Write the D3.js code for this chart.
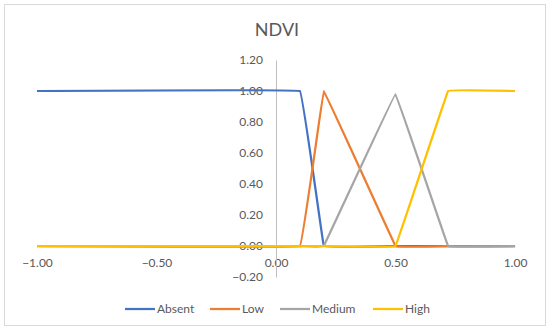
<!DOCTYPE html>
<html>
<head>
<meta charset="utf-8">
<script src="https://cdn.jsdelivr.net/npm/d3@7"></script>
<style>
  body { margin: 0; background: #fff; }
  svg text { font-family: Lato, "Open Sans", sans-serif; fill: #595959; }
</style>
</head>
<body>
<div id="chart"></div>
<script>
// chart data
const seriesNames = ["Absent", "Low", "Medium", "High"];
const seriesColors = ["#4472C4", "#ED7D31", "#A5A5A5", "#FFC000"];

const absentX = [-1, 0.1, 0.2, 0.5, 0.72, 1];
const absentY = [1, 1, 0, 0, 0, 0];
const lowX = [-1, 0.1, 0.2, 0.5, 0.72, 1];
const lowY = [0, 0, 1, 0, 0, 0];
const mediumX = [-1, 0.1, 0.2, 0.5, 0.72, 1];
const mediumY = [0, 0, 0, 0.98, 0, 0];
const highX = [-1, 0.1, 0.2, 0.5, 0.72, 1];
const highY = [0, 0, 0, 0, 1, 1];

const xTicks = [-1, -0.5, 0, 0.5, 1];
const yTicks = [-0.2, 0, 0.2, 0.4, 0.6, 0.8, 1, 1.2];

const width = 550, height = 334;

const svg = d3.select("#chart").append("svg")
    .attr("width", width)
    .attr("height", height);

// chart border
svg.append("rect")
    .attr("x", 4.5).attr("y", 4.5)
    .attr("width", 541).attr("height", 321)
    .attr("fill", "#fff")
    .attr("stroke", "#d9d9d9");

svg.append("text")
    .attr("x", 277).attr("y", 36)
    .attr("text-anchor", "middle")
    .style("font-size", "18px")
    .text("NDVI");

const x = d3.scaleLinear().domain([-1, 1]).range([37, 515]);
const y = d3.scaleLinear().domain([-0.2, 1.2]).range([277, 60]);

const fmt = d3.format(".2f");
const fmtTick = d => fmt(d).replace("-", "\u2212");

// x axis sits on y = 0
const xAxis = svg.append("g")
    .attr("transform", `translate(0,${y(0)})`)
    .call(d3.axisBottom(x).tickValues(xTicks).tickFormat(fmtTick).tickSize(0).tickPadding(12));
xAxis.select(".domain").attr("stroke", "#bfbfbf").attr("stroke-width", 1);
xAxis.selectAll("text").style("font-size", "12px").attr("fill", "#595959");

// y axis sits on x = 0
const yAxis = svg.append("g")
    .attr("transform", `translate(${x(0)},0)`)
    .call(d3.axisLeft(y).tickValues(yTicks).tickFormat(fmtTick).tickSize(0).tickPadding(13));
yAxis.select(".domain").attr("stroke", "#bfbfbf").attr("stroke-width", 1);
yAxis.selectAll("text").style("font-size", "12px").attr("fill", "#595959");

const allX = [absentX, lowX, mediumX, highX];
const allY = [absentY, lowY, mediumY, highY];

// lightly smoothed lines (high tension keeps the ramps straight)
const line = d3.line()
    .x(d => x(d[0]))
    .y(d => y(d[1]))
    .curve(d3.curveCardinal.tension(0.94));

seriesNames.forEach((name, i) => {
    const pts = allX[i].map((v, j) => [v, allY[i][j]]);
    svg.append("path")
        .datum(pts)
        .attr("fill", "none")
        .attr("stroke", seriesColors[i])
        .attr("stroke-width", 2.25)
        .attr("stroke-linejoin", "round")
        .attr("d", line);
});

// legend
const legendX = [125, 210, 280, 373];
const legend = svg.append("g");
seriesNames.forEach((name, i) => {
    legend.append("line")
        .attr("x1", legendX[i]).attr("x2", legendX[i] + 30)
        .attr("y1", 309).attr("y2", 309)
        .attr("stroke", seriesColors[i])
        .attr("stroke-width", 2.25);
    legend.append("text")
        .attr("x", legendX[i] + 32).attr("y", 313)
        .style("font-size", "12px")
        .text(name);
});
</script>
</body>
</html>
